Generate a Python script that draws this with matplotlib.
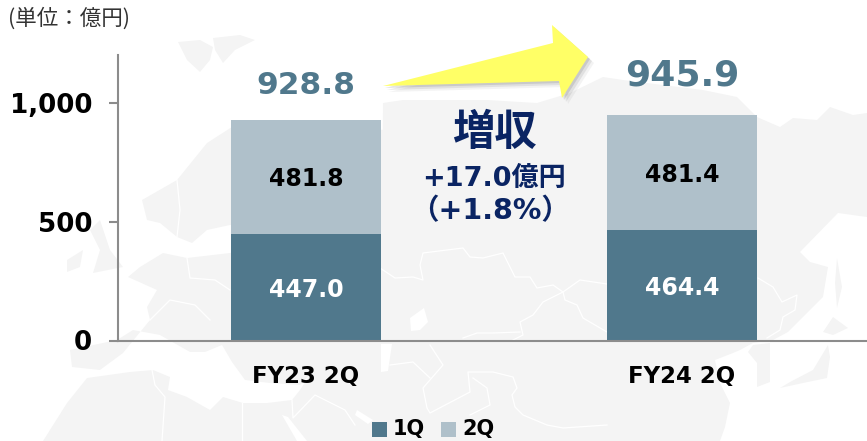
import matplotlib
matplotlib.use("Agg")
import matplotlib.pyplot as plt
from matplotlib.patches import Polygon, Rectangle

plt.rcParams['font.family'] = ['DejaVu Sans', 'Noto Sans CJK JP']

# values
categories = ['FY23 2Q', 'FY24 2Q']
q1 = [447.0, 464.4]
q2 = [481.8, 481.4]
totals = ['928.8', '945.9']
yticks = [0, 500, 1000]
ytick_labels = ['0', '500', '1,000']

# rough outline of the faded world map behind the chart, in pixels
land = [
    # svalbard, uk, ireland
    [(178, 42), (200, 40), (213, 47), (210, 60), (200, 72), (187, 60)],
    [(213, 38), (240, 35), (255, 40), (235, 50), (223, 63), (215, 50)],
    [(90, 230), (100, 220), (110, 250), (123, 267), (93, 273), (100, 250)],
    [(67, 260), (83, 250), (80, 267), (67, 272)],
    # scandinavia
    [(142, 200), (177, 180), (207, 143), (235, 125), (300, 125), (385, 130), (385, 240), (230, 225), (207, 230),
     (192, 243), (177, 237), (160, 223), (147, 220)],
    # europe
    [(128, 277), (140, 267), (163, 253), (187, 258), (230, 253), (385, 200), (400, 345), (385, 376), (310, 375),
     (300, 385), (270, 383), (245, 380), (232, 362), (222, 345), (205, 352), (190, 352), (160, 335), (133, 330),
     (117, 340), (70, 350), (72, 367), (100, 370), (123, 353), (150, 320), (147, 307), (157, 290)],
    # north africa and arabia
    [(43, 441), (67, 403), (87, 378), (130, 372), (153, 370), (170, 377), (168, 390), (187, 397), (210, 410),
     (223, 397), (243, 403), (267, 403), (292, 400), (300, 390), (310, 375), (385, 375), (430, 441)],
    # asia
    [(383, 103), (403, 100), (487, 100), (537, 103), (570, 93), (603, 77), (623, 80), (703, 90), (737, 97),
     (757, 117), (780, 127), (793, 118), (817, 120), (830, 107), (853, 115), (867, 113), (867, 217), (838, 213),
     (800, 252), (810, 262), (828, 267), (823, 297), (788, 332), (773, 340), (753, 343), (740, 350), (733, 353),
     (715, 360), (720, 383), (730, 403), (725, 427), (720, 441), (380, 441)],
    # korea, japan, sakhalin
    [(753, 345), (770, 343), (770, 382), (757, 387), (757, 363), (748, 352)],
    [(828, 345), (830, 357), (827, 378), (803, 383), (780, 388), (790, 382), (813, 370)],
    [(823, 332), (833, 317), (848, 328), (833, 335)],
    [(837, 258), (842, 287), (837, 308), (835, 283)],
]
# inland seas cut out of the land
lakes = [
    [(410, 318), (424, 308), (428, 322), (420, 330), (411, 331)],
    [(381, 344), (392, 344), (388, 371), (381, 372)],
    [(282, 415), (288, 417), (307, 441), (297, 441)],
    [(357, 410), (373, 420), (368, 424), (355, 415)],
]
map_borders = [
    [(380, 268), (395, 278), (413, 277), (423, 280), (420, 265), (423, 253), (463, 248), (470, 257), (483, 258),
     (503, 253), (515, 277), (530, 277), (537, 288), (553, 285), (563, 292), (580, 280), (607, 284)],
    [(563, 292), (565, 300), (577, 305), (583, 318), (607, 332)],
    [(563, 292), (543, 302), (533, 315), (520, 322), (523, 335), (513, 340)],
    [(463, 338), (477, 333), (493, 333), (520, 332)],
    [(430, 345), (443, 365), (423, 388), (427, 408), (430, 413), (470, 392), (468, 372), (493, 372), (513, 377),
     (517, 388), (512, 395), (515, 407), (523, 415), (547, 425), (563, 428), (607, 425)],
    [(473, 378), (487, 388), (490, 405), (470, 415)],
    [(390, 365), (413, 362), (430, 378)],
    [(758, 278), (773, 287), (782, 302), (797, 295), (795, 310), (783, 317), (780, 330), (767, 338)],
    [(177, 180), (180, 210), (177, 237)],
    [(187, 258), (190, 278), (215, 280), (230, 290)],
    [(150, 320), (170, 300), (195, 305), (210, 320)],
    [(152, 370), (155, 385), (165, 397), (162, 441)],
    [(242, 403), (242, 441)],
    [(292, 400), (293, 418), (315, 395), (345, 410), (355, 425)],
]

fig = plt.figure(figsize=(8.67, 4.41), dpi=100)

# background layer in pixel coordinates
bg = fig.add_axes([0, 0, 1, 1], zorder=0)
bg.set_xlim(0, 867)
bg.set_ylim(441, 0)
bg.axis('off')
for shape in land:
    bg.add_patch(Polygon(shape, closed=True, fc='#F4F4F4', ec='none'))
for shape in lakes:
    bg.add_patch(Polygon(shape, closed=True, fc='white', ec='none'))
for line in map_borders:
    bg.plot([p[0] for p in line], [p[1] for p in line], color='white', lw=0.9)

# axes run slightly past the right edge of the figure
ax = fig.add_axes([118 / 867, (441 - 340.5) / 441, 752 / 867, 285.5 / 441], zorder=1)
ax.patch.set_alpha(0)
x = [0, 1]
ax.bar(x, q1, width=150 / 376, color='#50788C', label='1Q')
ax.bar(x, q2, width=150 / 376, bottom=q1, color='#AFC0CA', label='2Q')
ax.set_xlim(-0.5, 1.5)
ax.set_ylim(0, 1200)
ax.set_xticks(x, categories, fontsize=16.5, fontweight='bold')
ax.set_yticks(yticks, ytick_labels, fontsize=18.8, fontweight='bold')
ax.tick_params(axis='x', length=0, pad=18)
ax.tick_params(axis='y', length=6.5, width=1.5, color='#8C8C8C', pad=12)
for s in ['top', 'right']:
    ax.spines[s].set_visible(False)
for s in ['left', 'bottom']:
    ax.spines[s].set_color('#8C8C8C')
    ax.spines[s].set_linewidth(1.5)

for i in x:
    ax.text(i, q1[i] / 2 - 10, f'{q1[i]:.1f}', ha='center', va='center', color='white', fontsize=17, fontweight='bold')
    ax.text(i, q1[i] + q2[i] / 2 - 10, f'{q2[i]:.1f}', ha='center', va='center', color='black', fontsize=17, fontweight='bold')
ax.text(0, 1072, totals[0], ha='center', va='center', color='#50788C', fontsize=22.5, fontweight='bold')
ax.text(1, 1115, totals[1], ha='center', va='center', color='#50788C', fontsize=26, fontweight='bold')

# top layer for arrow and callout
top = fig.add_axes([0, 0, 1, 1], zorder=2)
top.set_xlim(0, 867)
top.set_ylim(441, 0)
top.axis('off')
arrow = [(383, 86), (553, 43), (552, 25), (588, 57), (562, 98), (559, 81)]
for off, a in [(6, 0.06), (4, 0.10), (2, 0.14)]:
    top.add_patch(Polygon([(p[0] + off, p[1] + off) for p in arrow], closed=True, fc='#404040', ec='none', alpha=a))
top.add_patch(Polygon(arrow, closed=True, fc='#FFFF66', ec='none'))

navy = '#0A2463'
top.text(494, 133, '増収', ha='center', va='center', color=navy, fontsize=30.5, fontweight='bold')
top.text(494, 179, '+17.0億円', ha='center', va='center', color=navy, fontsize=19.5, fontweight='bold')
top.text(490, 211, '（+1.8%）', ha='center', va='center', color=navy, fontsize=20.5, fontweight='bold')
top.text(8, 19, '(単位：億円)', ha='left', va='center', color='#333333', fontsize=15.5,
         family=['Noto Sans CJK JP', 'DejaVu Sans'])

# legend by hand so it sits low in the frame
top.add_patch(Rectangle((372, 422), 15, 15, fc='#50788C', ec='none'))
top.text(393, 429, '1Q', ha='left', va='center', fontsize=15, fontweight='bold')
top.add_patch(Rectangle((441, 422), 15, 15, fc='#AFC0CA', ec='none'))
top.text(462, 429, '2Q', ha='left', va='center', fontsize=15, fontweight='bold')

fig.savefig('out.png', dpi=100)
